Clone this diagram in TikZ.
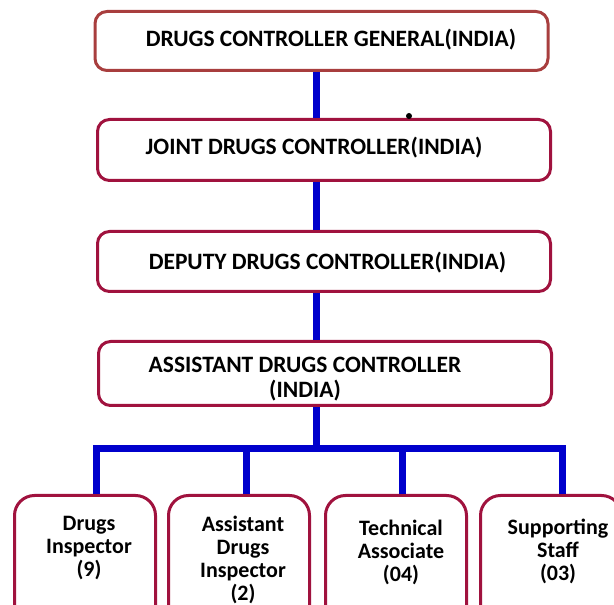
\documentclass[tikz,border=0pt]{standalone}
\usepackage{fontspec}
\setmainfont{Carlito}
\definecolor{boxred}{RGB}{160,18,62}
\definecolor{topred}{RGB}{168,62,62}
\definecolor{linkblue}{RGB}{0,0,204}
\usetikzlibrary{shapes}
\tikzstyle{office}=[rectangle,rounded corners=9pt,draw=boxred,line width=2.25pt,fill=white,minimum width=339.75pt]
\tikzstyle{officetext}=[align=center,inner sep=0pt,font=\fontsize{17.6}{18.75}\selectfont\bfseries]
\tikzstyle{staff}=[rectangle,rounded corners=15pt,draw=boxred,line width=2.25pt,fill=white,minimum width=105.75pt,minimum height=112.5pt,anchor=north]
\tikzstyle{stafftext}=[anchor=north,align=center,inner sep=0pt,font=\fontsize{16.5}{17.25}\selectfont\bfseries]
\tikzstyle{link} = [draw,linkblue,line width=5.25pt]

\begin{document}
\begin{tikzpicture}[x=0.75pt,y=-0.75pt]
\useasboundingbox (0,0) rectangle (614,605);

            % head offices
            \node[office,draw=topred,minimum height=44.25pt] (dcg) at (321.5,41) {};
            \node[office,minimum height=45.75pt] (jdc) at (324,150) {};
            \node[office,minimum height=45pt] (ddc) at (324,261.5) {};
            \node[office,minimum height=48pt] (adc) at (325,373.5) {};

            \node[officetext] (dcgt) at (331,40) {DRUGS CONTROLLER GENERAL(INDIA)};
            \node[officetext] (jdct) at (314,148) {JOINT DRUGS CONTROLLER(INDIA)};
            \node[officetext] (ddct) at (327.5,263) {DEPUTY DRUGS CONTROLLER(INDIA)};
            \node[officetext] (adct) at (305,379) {ASSISTANT DRUGS CONTROLLER\\(INDIA)};

            % staff
            \node[staff] (di) at (85,494) {};
            \node[staff] (adi) at (239,494) {};
            \node[staff] (ta) at (396,494) {};
            \node[staff] (ss) at (551,494) {};

            \node[stafftext] (dit) at (89,516) {Drugs\\Inspector\\(9)};
            \node[stafftext] (adit) at (243,516) {Assistant\\Drugs\\Inspector\\(2)};
            \node[stafftext] (tat) at (401,520) {Technical\\Associate\\(04)};
            \node[stafftext] (sst) at (558,519) {Supporting\\Staff\\(03)};

            \coordinate (spine) at (316,0);
            \coordinate (t1) at (96,449);
            \coordinate (t2) at (246,449);
            \coordinate (t3) at (402,449);
            \coordinate (t4) at (562,449);

            \path[link] (dcg.south -| spine) -- (jdc.north -| spine);
            \path[link] (jdc.south -| spine) -- (ddc.north -| spine);
            \path[link] (ddc.south -| spine) -- (adc.north -| spine);
            \path[link] (adc.south -| spine) -- (spine |- t1);
            \path[link] (t1 |- di.north) -- (t1) -- (t4) -- (t4 |- ss.north);
            \path[link] (t2) -- (t2 |- adi.north);
            \path[link] (t3) -- (t3 |- ta.north);

            \fill (409,116) circle (2.25pt);
        \end{tikzpicture}
\end{document}
